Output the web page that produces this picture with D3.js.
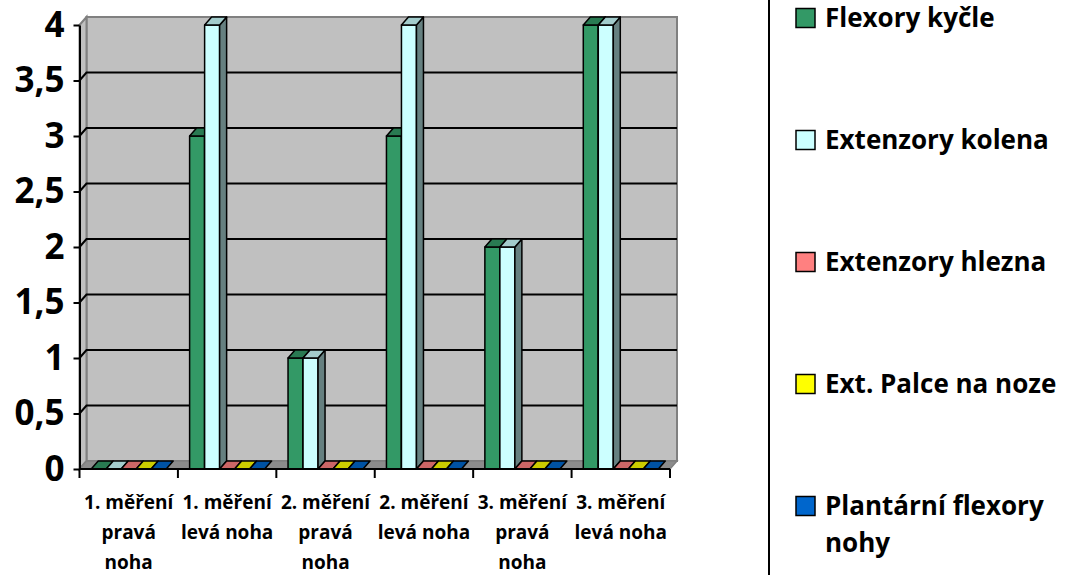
<!DOCTYPE html>
<html>
<head>
<meta charset="utf-8">
<script src="https://cdn.jsdelivr.net/npm/d3@7"></script>
<style>
  html, body { margin: 0; padding: 0; background: #ffffff; }
  svg { display: block; font-family: "Open Sans", "Liberation Sans", sans-serif; font-weight: 700; }
</style>
</head>
<body>
<svg id="chart" width="1077" height="575"></svg>
<script>
// Categories (line breaks mark where the axis labels wrap)
const categories = [
  "1. měření\npravá\nnoha",
  "1. měření\nlevá noha",
  "2. měření\npravá\nnoha",
  "2. měření\nlevá noha",
  "3. měření\npravá\nnoha",
  "3. měření\nlevá noha"
];

// Series names and colours
const seriesNames = [
  "Flexory kyčle",
  "Extenzory kolena",
  "Extenzory hlezna",
  "Ext. Palce na noze",
  "Plantární flexory\nnohy"
];
const seriesColors = ["#339966", "#ccffff", "#ff8080", "#ffff00", "#0066cc"];

// Values per series
const flexoryKycle     = [0, 3, 1, 3, 2, 4];
const extenzoryKolena  = [0, 4, 1, 4, 2, 4];
const extenzoryHlezna  = [0, 0, 0, 0, 0, 0];
const extPalceNaNoze   = [0, 0, 0, 0, 0, 0];
const plantarniFlexory = [0, 0, 0, 0, 0, 0];
const seriesValues = [flexoryKycle, extenzoryKolena, extenzoryHlezna, extPalceNaNoze, plantarniFlexory];

// Value axis ticks
const yTicks = [0, 0.5, 1, 1.5, 2, 2.5, 3, 3.5, 4];
const yTickLabels = ["0", "0,5", "1", "1,5", "2", "2,5", "3", "3,5", "4"];

const svg = d3.select("#chart");

// Front plane of the plot and the 3D depth offset
const frontLeft = 79.5, frontRight = 670;
const DX = 7, DY = -8;

const y = d3.scaleLinear().domain([0, 4]).range([469, 25]);
const x = d3.scaleBand().domain(categories).range([frontLeft, frontRight]).paddingInner(0).paddingOuter(0);
const inner = d3.scaleBand().domain(seriesNames).range([0, x.bandwidth()]).paddingInner(0).paddingOuter(0.78);

const shade = (c, k) => {
  const col = d3.rgb(c);
  return d3.rgb(col.r * k, col.g * k, col.b * k).formatHex();
};
const pts = arr => arr.map(p => p.join(",")).join(" ");

const y0 = y(0), yTop = y(4);

// Back wall
svg.append("rect")
  .attr("x", frontLeft + DX).attr("y", yTop + DY)
  .attr("width", frontRight - frontLeft).attr("height", y0 - yTop)
  .attr("fill", "#c0c0c0").attr("stroke", "#808080").attr("stroke-width", 2);

// Side wall
svg.append("polygon")
  .attr("points", pts([[frontLeft, yTop], [frontLeft + DX, yTop + DY], [frontLeft + DX, y0 + DY], [frontLeft, y0]]))
  .attr("fill", "#c0c0c0").attr("stroke", "#808080").attr("stroke-width", 2);

// Floor
svg.append("polygon")
  .attr("points", pts([[frontLeft, y0], [frontRight, y0], [frontRight + DX, y0 + DY], [frontLeft + DX, y0 + DY]]))
  .attr("fill", "#8c8c8c").attr("stroke", "#808080").attr("stroke-width", 1.5);

// Gridlines on the back wall and across the side wall
const grid = svg.append("g").attr("stroke", "#000").attr("stroke-width", 2).attr("fill", "none");
yTicks.filter(v => v > 0 && v < 4).forEach(v => {
  grid.append("polyline")
    .attr("points", pts([[frontLeft, y(v)], [frontLeft + DX, y(v) + DY], [frontRight + DX, y(v) + DY]]));
});

// Bars (drawn left to right so later fronts cover earlier side faces)
const bars = svg.append("g").attr("stroke", "#000").attr("stroke-width", 1.5).attr("stroke-linejoin", "round");
categories.forEach((c, ci) => {
  seriesNames.forEach((s, si) => {
    const v = seriesValues[si][ci];
    const col = seriesColors[si];
    const bx = x(c) + inner(s);
    const w = inner.bandwidth();
    const top = y(v);
    if (v > 0) {
      bars.append("rect").attr("x", bx).attr("y", top).attr("width", w).attr("height", y0 - top).attr("fill", col);
      bars.append("polygon")
        .attr("points", pts([[bx + w, top], [bx + w + DX, top + DY], [bx + w + DX, y0 + DY], [bx + w, y0]]))
        .attr("fill", shade(col, 0.5));
    }
    bars.append("polygon")
      .attr("points", pts([[bx, top], [bx + w, top], [bx + w + DX, top + DY], [bx + DX, top + DY]]))
      .attr("fill", shade(col, 0.8));
  });
});

// Value axis
const yAxis = d3.axisLeft(y)
  .tickValues(yTicks)
  .tickFormat((d, i) => yTickLabels[i])
  .tickSize(6).tickSizeOuter(0).tickPadding(9);
const yg = svg.append("g").attr("transform", `translate(${frontLeft},0)`).call(yAxis);
yg.select(".domain").attr("stroke", "#000").attr("stroke-width", 2);
yg.selectAll(".tick line").attr("stroke", "#000").attr("stroke-width", 2);
yg.selectAll(".tick text")
  .attr("fill", "#000").attr("font-size", 35).attr("font-weight", 700)
  .attr("font-family", "'Open Sans', sans-serif");

// Category axis: front line, boundary ticks and wrapped labels
const xg = svg.append("g");
xg.append("line")
  .attr("x1", frontLeft).attr("x2", frontRight).attr("y1", y0).attr("y2", y0)
  .attr("stroke", "#000").attr("stroke-width", 2);
const bounds = categories.map(c => x(c)).concat([x.range()[1]]);
xg.selectAll("line.tk").data(bounds).join("line").attr("class", "tk")
  .attr("x1", d => d).attr("x2", d => d).attr("y1", y0).attr("y2", y0 + 9)
  .attr("stroke", "#000").attr("stroke-width", 2);
const labels = xg.selectAll("text.cat").data(categories).join("text").attr("class", "cat")
  .attr("text-anchor", "middle").attr("font-size", 19).attr("fill", "#000")
  .attr("x", d => x(d) + x.bandwidth() / 2).attr("y", 509);
labels.selectAll("tspan").data(d => d.split("\n")).join("tspan")
  .attr("x", function () { return d3.select(this.parentNode).attr("x"); })
  .attr("dy", (d, i) => i === 0 ? 0 : 30)
  .text(d => d);

// Legend
svg.append("line").attr("x1", 769).attr("x2", 769).attr("y1", 0).attr("y2", 575)
  .attr("stroke", "#000").attr("stroke-width", 2);
const legendY = d3.scalePoint().domain(seriesNames).range([18, 506]);
const lg = svg.append("g").selectAll("g").data(seriesNames).join("g")
  .attr("transform", d => `translate(796,${legendY(d)})`);
lg.append("rect").attr("x", 0).attr("y", -9.5).attr("width", 19).attr("height", 19)
  .attr("fill", (d, i) => seriesColors[i]).attr("stroke", "#000").attr("stroke-width", 1.5);
const lt = lg.append("text").attr("x", 29).attr("y", 9).attr("font-size", 26).attr("fill", "#000");
lt.selectAll("tspan").data(d => d.split("\n")).join("tspan")
  .attr("x", 29).attr("dy", (d, i) => i === 0 ? 0 : 37).text(d => d);
</script>
</body>
</html>
